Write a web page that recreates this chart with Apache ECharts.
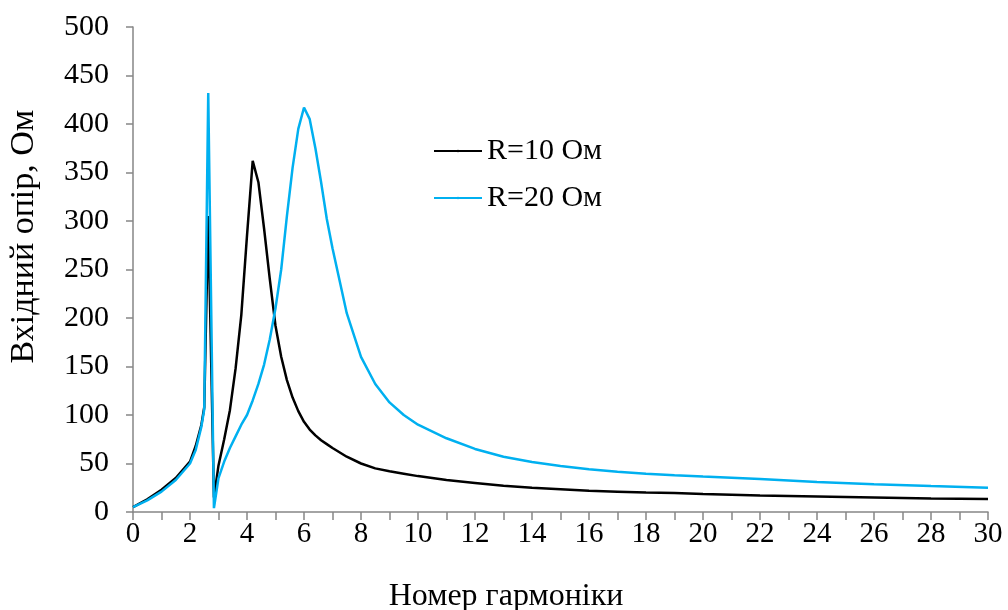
<!DOCTYPE html>
<html>
<head>
<meta charset="utf-8">
<script src="https://cdn.jsdelivr.net/npm/echarts@6/dist/echarts.min.js"></script>
<style>
  html, body { margin: 0; padding: 0; background: #fff; }
  #chart { width: 1008px; height: 610px; }
</style>
</head>
<body>
<div id="chart"></div>
<script>
// номер гармоніки (вісь X)
var harmonics = [0, 0.5, 1, 1.5, 2, 2.2, 2.4, 2.5, 2.64, 2.84, 3.0, 3.2, 3.4, 3.6, 3.8, 4.0, 4.2, 4.4, 4.6, 4.8,
    5.0, 5.2, 5.4, 5.6, 5.8, 6.0, 6.2, 6.4, 6.6, 6.8, 7.0, 7.5, 8, 8.5, 9, 9.5, 10, 11, 12, 13,
    14, 15, 16, 17, 18, 19, 20, 22, 24, 26, 28, 30];

// вхідний опір, R=10 Ом
var r10 = [5, 13, 23, 35, 52, 68, 90, 108, 305, 15, 48, 75, 105, 148, 203, 285, 362, 340, 292, 240,
    192, 160, 136, 118, 104, 93, 85, 79, 74, 70, 66, 57, 50, 45, 42, 39.5, 37, 33, 30, 27,
    25, 23.5, 22, 21, 20, 19.5, 18.5, 17, 16, 15, 14, 13.5];

// вхідний опір, R=20 Ом
var r20 = [5, 12, 21, 33, 50, 64, 88, 106, 432, 4, 35, 52, 66, 78, 90, 100, 115, 132, 152, 178,
    210, 250, 305, 355, 395, 417, 405, 375, 340, 302, 272, 205, 160, 132, 113, 100, 90, 76, 65, 57,
    51.5, 47.5, 44, 41.5, 39.5, 37.8, 36.5, 34, 31, 28.7, 26.7, 25];

var seriesNames = ['R=10 Ом', 'R=20 Ом'];

function pairs(xs, ys) {
    var out = [];
    for (var i = 0; i < xs.length; i++) out.push([xs[i], ys[i]]);
    return out;
}

var FONT = '"Liberation Serif", "Times New Roman", serif';
var AXIS_COLOR = '#868686';

var chart = echarts.init(document.getElementById('chart'));
chart.setOption({
    animation: false,
    textStyle: { fontFamily: FONT, color: '#000' },
    grid: { left: 133, right: 20, top: 27, bottom: 98, outerBoundsMode: 'none', containLabel: false },
    legend: {
        orient: 'vertical',
        left: 428,
        top: 131,
        itemWidth: 48,
        itemHeight: 3,
        itemGap: 17,
        textStyle: { fontFamily: FONT, fontSize: 30, color: '#000' },
        data: seriesNames
    },
    xAxis: {
        type: 'value',
        min: 0,
        max: 30,
        interval: 2,
        name: 'Номер гармоніки',
        nameLocation: 'middle',
        nameGap: 69,
        nameTextStyle: { fontFamily: FONT, fontSize: 32, color: '#000', padding: [0, 109, 0, 0] },
        axisLine: { show: true, lineStyle: { color: AXIS_COLOR, width: 1.5 } },
        axisTick: { show: true, length: 8, lineStyle: { color: AXIS_COLOR, width: 1.5 } },
        minorTick: { show: true, splitNumber: 2, length: 8, lineStyle: { color: AXIS_COLOR, width: 1.5 } },
        axisLabel: { fontFamily: FONT, fontSize: 29, color: '#000', margin: 8 },
        splitLine: { show: false }
    },
    yAxis: {
        type: 'value',
        min: 0,
        max: 500,
        interval: 50,
        name: 'Вхідний опір, Ом',
        nameLocation: 'middle',
        nameGap: 92,
        nameTextStyle: { fontFamily: FONT, fontSize: 34, color: '#000', padding: [0, 0, 0, 66] },
        axisLine: { show: true, lineStyle: { color: AXIS_COLOR, width: 1.5 } },
        axisTick: { show: true, length: 7, lineStyle: { color: AXIS_COLOR, width: 1.5 } },
        axisLabel: { fontFamily: FONT, fontSize: 30, color: '#000', margin: 24 },
        splitLine: { show: false }
    },
    series: [{
        name: seriesNames[0],
        type: 'line',
        showSymbol: false,
        symbol: 'none',
        lineStyle: { color: '#000000', width: 2.5 },
        itemStyle: { color: '#000000' },
        data: pairs(harmonics, r10)
    }, {
        name: seriesNames[1],
        type: 'line',
        showSymbol: false,
        symbol: 'none',
        lineStyle: { color: '#00B0F0', width: 2.5 },
        itemStyle: { color: '#00B0F0' },
        data: pairs(harmonics, r20)
    }]
});
</script>
</body>
</html>
